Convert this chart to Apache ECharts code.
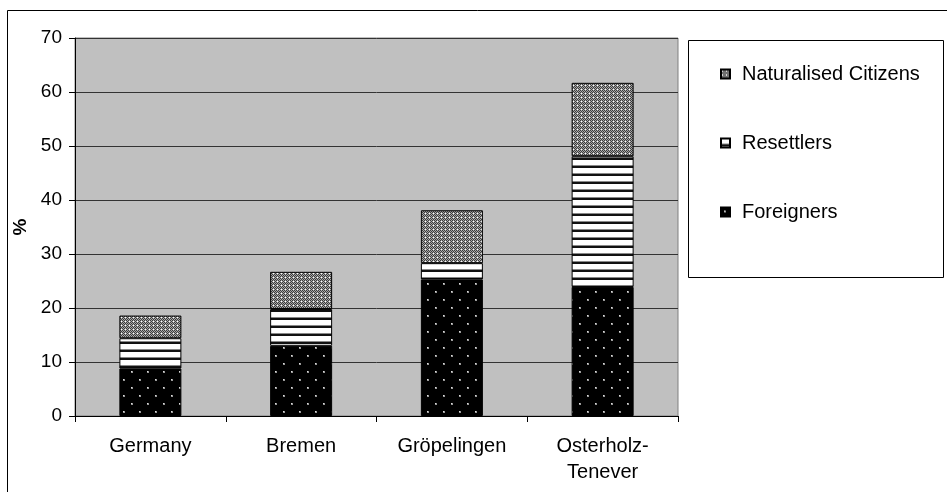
<!DOCTYPE html>
<html>
<head>
<meta charset="utf-8">
<script src="https://cdn.jsdelivr.net/npm/echarts@6/dist/echarts.min.js"></script>
<style>html,body{margin:0;padding:0;background:#fff}#c{width:947px;height:492px}</style>
</head>
<body>
<div id="c"></div>
<script>
const categories = ['Germany', 'Bremen', 'Gröpelingen', 'Osterholz-\nTenever'];
const foreigners = [8.8, 13.0, 25.3, 23.9];
const resettlers = [5.6, 6.8, 3.0, 24.2];
const naturalised = [4.2, 6.9, 9.8, 13.6];
const yTicks = {min: 0, max: 70, interval: 10};

function makeCanvas(w, h, draw) {
  const c = document.createElement('canvas');
  c.width = w; c.height = h;
  draw(c.getContext('2d'));
  return c;
}
const dotPattern = makeCanvas(16, 16, g => {
  g.fillStyle = '#000'; g.fillRect(0, 0, 16, 16);
  g.fillStyle = '#9a9a9a';
  g.fillRect(3, 3, 2, 2); g.fillRect(11, 11, 2, 2);
  g.fillStyle = '#ddd';
  g.fillRect(3, 3, 1, 1); g.fillRect(11, 11, 1, 1);
});
const stripePattern = makeCanvas(8, 8, g => {
  g.fillStyle = '#fff'; g.fillRect(0, 0, 8, 8);
  g.fillStyle = '#888'; g.fillRect(0, 5, 8, 1);
  g.fillStyle = '#111'; g.fillRect(0, 6, 8, 2);
});
const hatchPattern = makeCanvas(4, 4, g => {
  for (let y = 0; y < 4; y++) for (let x = 0; x < 4; x++) {
    g.fillStyle = ((x + y) % 2 === 0) ? '#3c3c3c' : '#a8a8a8';
    g.fillRect(x, y, 1, 1);
  }
  g.fillStyle = '#fff'; g.fillRect(1, 1, 1, 1);
});

const font = '"Liberation Sans", Arial, sans-serif';
const chart = echarts.init(document.getElementById('c'), null, {renderer: 'canvas'});

function barSeries(name, data, pattern) {
  return {
    name: name, type: 'bar', stack: 'total', data: data,
    barWidth: 62,
    itemStyle: {color: {image: pattern, repeat: 'repeat'}, borderColor: '#000', borderWidth: 1},
    emphasis: {disabled: true}
  };
}

chart.setOption({
  animation: false,
  backgroundColor: '#fff',
  graphic: [
    {type: 'rect', shape: {x: 7.5, y: 10.5, width: 1000, height: 1000}, style: {fill: 'none', stroke: '#000', lineWidth: 1}, z: 0},
    {type: 'rect', shape: {x: 688.5, y: 40.5, width: 255, height: 237}, style: {fill: '#fff', stroke: '#000', lineWidth: 1}, z: 0}
  ],
  grid: {
    left: 75, right: 269, top: 38, bottom: 76,
    show: true, backgroundColor: '#C0C0C0', borderColor: '#808080', borderWidth: 1
  },
  legend: {
    orient: 'vertical',
    left: 715, top: 59,
    icon: 'rect',
    itemWidth: 9, itemHeight: 9, itemGap: 49,
    data: ['Naturalised Citizens', 'Resettlers', 'Foreigners'],
    formatter: n => '{a|' + n + '}',
    textStyle: {
      color: '#000', fontFamily: font, fontSize: 20,
      rich: {a: {fontFamily: font, fontSize: 20, lineHeight: 20, padding: [0, 0, 0, 7], color: '#000'}}
    },
    selectedMode: false
  },
  xAxis: {
    type: 'category', data: categories,
    axisLine: {lineStyle: {color: '#000', width: 1}},
    axisTick: {show: true, length: 6, alignWithLabel: false, lineStyle: {color: '#000'}},
    axisLabel: {color: '#000', fontFamily: font, fontSize: 20, lineHeight: 26, margin: 17, interval: 0},
    splitLine: {show: false}
  },
  yAxis: {
    type: 'value', min: yTicks.min, max: yTicks.max, interval: yTicks.interval,
    name: '%', nameLocation: 'middle', nameRotate: 90, nameGap: 42,
    nameTextStyle: {color: '#000', fontFamily: font, fontSize: 19, fontWeight: 'bold'},
    axisLine: {show: true, lineStyle: {color: '#000', width: 1}},
    axisTick: {show: true, length: 6, lineStyle: {color: '#000'}},
    axisLabel: {color: '#000', fontFamily: font, fontSize: 19, margin: 13},
    splitLine: {show: true, lineStyle: {color: '#333', width: 1}}
  },
  series: [
    barSeries('Foreigners', foreigners, dotPattern),
    barSeries('Resettlers', resettlers, stripePattern),
    barSeries('Naturalised Citizens', naturalised, hatchPattern)
  ]
});
</script>
</body>
</html>
